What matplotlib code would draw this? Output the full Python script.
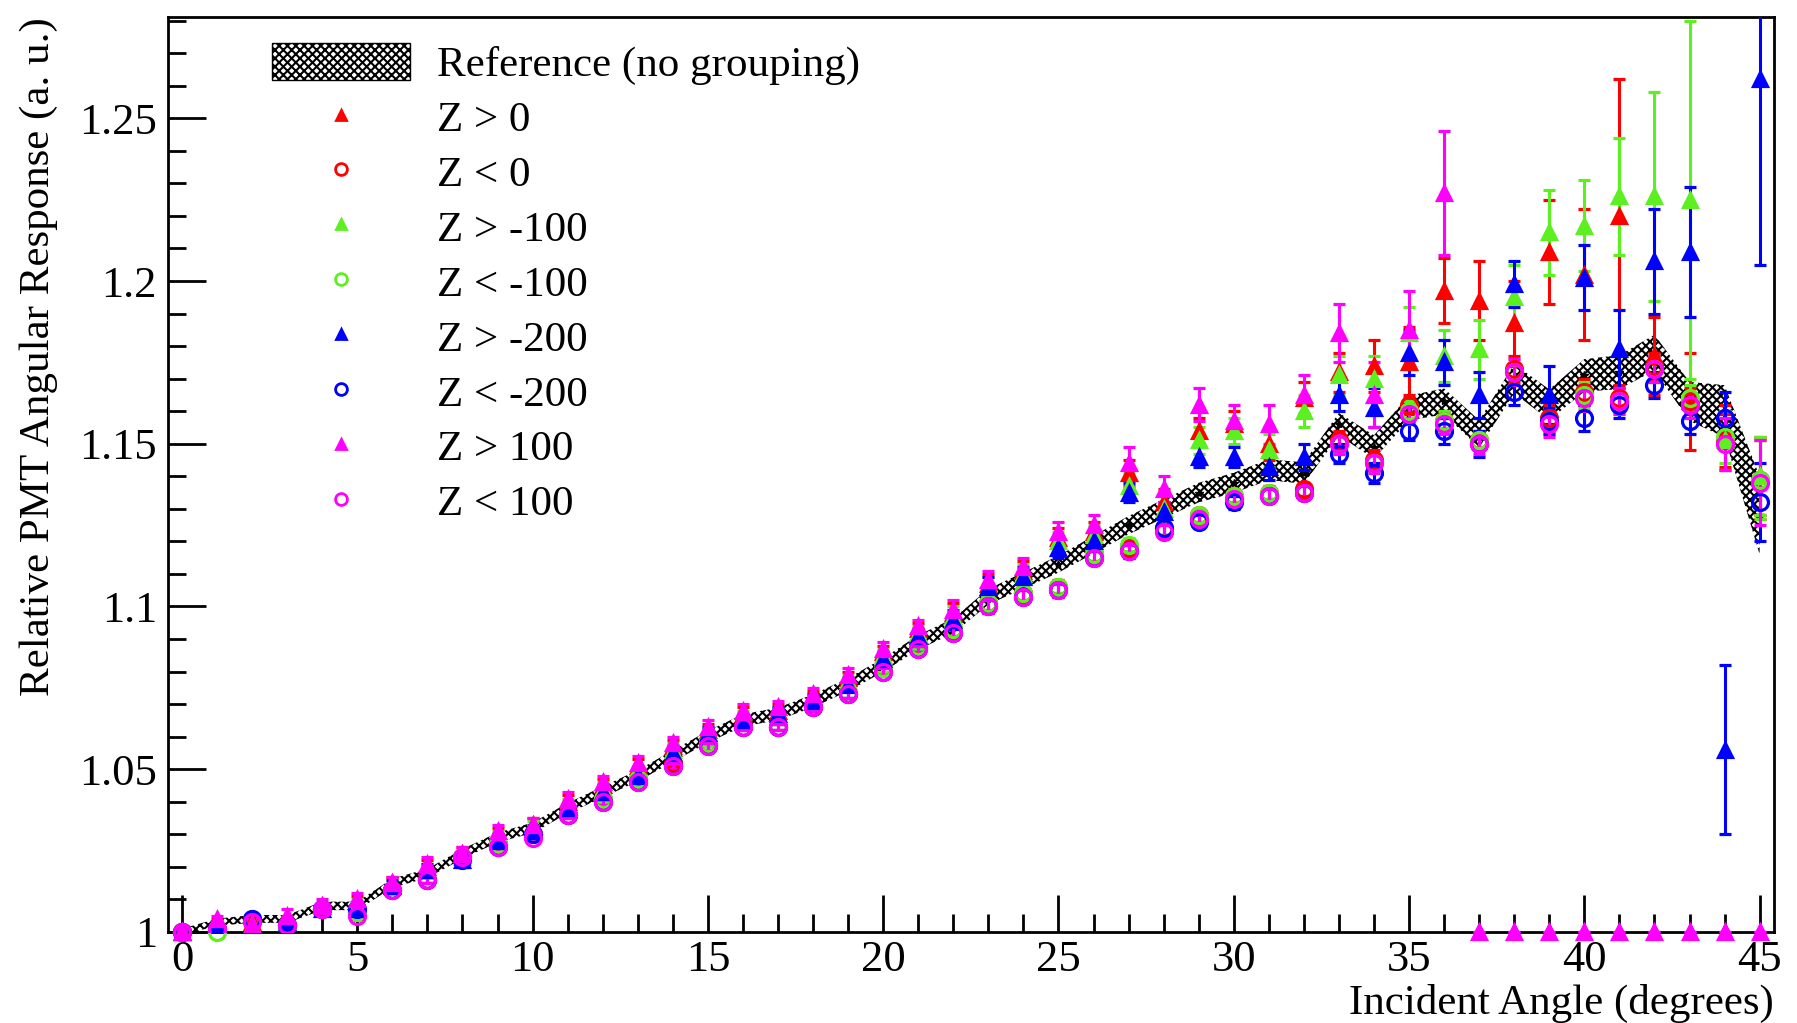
import numpy as np
import matplotlib
matplotlib.use("Agg")
from matplotlib import pyplot as plt
from matplotlib.lines import Line2D
from matplotlib.patches import Patch
from matplotlib.ticker import MultipleLocator, FormatStrFormatter

plt.rcParams['font.family'] = ['Liberation Serif', 'DejaVu Serif']
plt.rcParams['hatch.linewidth'] = 1.5

angle = np.arange(0, 46)

# reference (no grouping): value and band half-width
ref = [1.000, 1.003, 1.004, 1.004, 1.008, 1.008, 1.015, 1.018, 1.024, 1.029,
       1.032, 1.038, 1.043, 1.048, 1.054, 1.060, 1.065, 1.067, 1.071, 1.076,
       1.082, 1.089, 1.094, 1.103, 1.108, 1.113, 1.119, 1.125, 1.130, 1.135,
       1.138, 1.142, 1.141, 1.156, 1.149, 1.161, 1.163, 1.153, 1.170, 1.162,
       1.171, 1.172, 1.178, 1.163, 1.160, 1.128]
ref_err = [0.0010, 0.0011, 0.0012, 0.0012, 0.0013, 0.0013, 0.0014, 0.0014, 0.0015, 0.0015,
           0.0016, 0.0016, 0.0017, 0.0017, 0.0018, 0.0018, 0.0019, 0.0019, 0.0020, 0.0020,
           0.0021, 0.0022, 0.0023, 0.0024, 0.0025, 0.0026, 0.0027, 0.0028, 0.0029, 0.0030,
           0.0031, 0.0032, 0.0033, 0.0035, 0.0036, 0.0038, 0.0040, 0.0042, 0.0045, 0.0047,
           0.0050, 0.0052, 0.0055, 0.0060, 0.0080, 0.0120]

# Z > 0
zp0 = [1.000, 1.003, 1.003, 1.004, 1.008, 1.009, 1.015, 1.020, 1.024, 1.030,
       1.033, 1.040, 1.045, 1.051, 1.057, 1.062, 1.067, 1.068, 1.072, 1.078,
       1.086, 1.093, 1.098, 1.107, 1.111, 1.121, 1.123, 1.141, 1.132, 1.154,
       1.156, 1.150, 1.164, 1.172, 1.174, 1.175, 1.197, 1.194, 1.187, 1.209,
       1.202, 1.220, 1.177, 1.163, 1.152, 1.140]
zp0_err = [0.001, 0.001, 0.001, 0.001, 0.001, 0.002, 0.002, 0.002, 0.002, 0.002,
           0.002, 0.002, 0.002, 0.002, 0.002, 0.002, 0.002, 0.002, 0.002, 0.002,
           0.002, 0.002, 0.003, 0.003, 0.003, 0.003, 0.003, 0.004, 0.004, 0.004,
           0.004, 0.005, 0.005, 0.006, 0.008, 0.011, 0.010, 0.012, 0.013, 0.016,
           0.020, 0.042, 0.012, 0.015, 0.010, 0.012]

# Z < 0
zm0 = [1.000, 1.001, 1.004, 1.002, 1.007, 1.006, 1.013, 1.016, 1.023, 1.027,
       1.030, 1.036, 1.041, 1.047, 1.052, 1.058, 1.063, 1.063, 1.069, 1.073,
       1.081, 1.088, 1.093, 1.101, 1.104, 1.106, 1.116, 1.118, 1.124, 1.128,
       1.134, 1.135, 1.136, 1.151, 1.145, 1.162, 1.157, 1.151, 1.173, 1.158,
       1.166, 1.164, 1.174, 1.163, 1.151, 1.139]
zm0_err = [0.001, 0.001, 0.001, 0.001, 0.001, 0.001, 0.001, 0.001, 0.001, 0.001,
           0.001, 0.001, 0.001, 0.001, 0.001, 0.001, 0.001, 0.001, 0.001, 0.001,
           0.001, 0.001, 0.002, 0.002, 0.002, 0.002, 0.002, 0.002, 0.002, 0.002,
           0.002, 0.002, 0.002, 0.003, 0.003, 0.003, 0.003, 0.003, 0.004, 0.004,
           0.004, 0.004, 0.004, 0.004, 0.008, 0.012]

# Z > -100
zpm100 = [1.000, 1.002, 1.002, 1.003, 1.008, 1.008, 1.014, 1.019, 1.023, 1.029,
          1.032, 1.039, 1.044, 1.049, 1.056, 1.061, 1.066, 1.067, 1.071, 1.077,
          1.085, 1.092, 1.097, 1.106, 1.110, 1.120, 1.122, 1.137, 1.130, 1.151,
          1.154, 1.148, 1.160, 1.171, 1.170, 1.184, 1.177, 1.179, 1.195, 1.215,
          1.217, 1.226, 1.226, 1.225, 1.151, 1.140]
zpm100_err = [0.001, 0.001, 0.001, 0.001, 0.001, 0.002, 0.002, 0.002, 0.002, 0.002,
              0.002, 0.002, 0.002, 0.002, 0.002, 0.002, 0.002, 0.002, 0.002, 0.002,
              0.002, 0.002, 0.003, 0.003, 0.003, 0.003, 0.003, 0.004, 0.004, 0.004,
              0.004, 0.005, 0.005, 0.006, 0.007, 0.008, 0.008, 0.009, 0.010, 0.013,
              0.014, 0.018, 0.032, 0.055, 0.009, 0.012]

# Z < -100
zmm100 = [1.000, 1.000, 1.004, 1.002, 1.007, 1.006, 1.013, 1.016, 1.023, 1.027,
          1.030, 1.036, 1.041, 1.047, 1.051, 1.058, 1.063, 1.063, 1.069, 1.073,
          1.081, 1.088, 1.093, 1.101, 1.104, 1.106, 1.116, 1.119, 1.124, 1.128,
          1.134, 1.135, 1.135, 1.150, 1.144, 1.160, 1.157, 1.151, 1.172, 1.157,
          1.165, 1.163, 1.173, 1.164, 1.152, 1.139]
zmm100_err = zm0_err

# Z > -200
zpm200 = [1.000, 1.002, 1.001, 1.003, 1.007, 1.007, 1.014, 1.019, 1.022, 1.028,
          1.031, 1.038, 1.043, 1.048, 1.055, 1.061, 1.065, 1.067, 1.071, 1.076,
          1.084, 1.091, 1.096, 1.106, 1.109, 1.118, 1.120, 1.135, 1.129, 1.146,
          1.146, 1.143, 1.146, 1.165, 1.161, 1.178, 1.175, 1.165, 1.199, 1.165,
          1.201, 1.179, 1.206, 1.209, 1.056, 1.262]
zpm200_err = [0.001, 0.001, 0.001, 0.001, 0.001, 0.002, 0.002, 0.002, 0.002, 0.002,
              0.002, 0.002, 0.002, 0.002, 0.002, 0.002, 0.002, 0.002, 0.002, 0.002,
              0.002, 0.002, 0.003, 0.003, 0.003, 0.003, 0.003, 0.003, 0.003, 0.003,
              0.003, 0.004, 0.004, 0.005, 0.006, 0.007, 0.007, 0.007, 0.007, 0.009,
              0.010, 0.012, 0.016, 0.020, 0.026, 0.057]

# Z < -200
zmm200 = [1.000, 1.001, 1.004, 1.002, 1.007, 1.007, 1.013, 1.016, 1.022, 1.026,
          1.030, 1.036, 1.040, 1.046, 1.051, 1.057, 1.063, 1.063, 1.069, 1.073,
          1.080, 1.087, 1.092, 1.100, 1.103, 1.105, 1.115, 1.117, 1.124, 1.126,
          1.132, 1.134, 1.135, 1.147, 1.141, 1.154, 1.154, 1.150, 1.166, 1.157,
          1.158, 1.162, 1.168, 1.157, 1.158, 1.132]
zmm200_err = [0.001, 0.001, 0.001, 0.001, 0.001, 0.001, 0.001, 0.001, 0.001, 0.001,
              0.001, 0.001, 0.001, 0.001, 0.001, 0.001, 0.001, 0.001, 0.001, 0.001,
              0.001, 0.001, 0.002, 0.002, 0.002, 0.002, 0.002, 0.002, 0.002, 0.002,
              0.002, 0.002, 0.002, 0.003, 0.003, 0.003, 0.004, 0.004, 0.004, 0.004,
              0.004, 0.004, 0.004, 0.004, 0.008, 0.012]

# Z > 100 (empty bins from 37 on sit at the axis)
zp100 = [1.000, 1.004, 1.002, 1.005, 1.008, 1.010, 1.015, 1.021, 1.024, 1.031,
         1.033, 1.041, 1.046, 1.052, 1.058, 1.063, 1.068, 1.069, 1.073, 1.079,
         1.087, 1.094, 1.099, 1.108, 1.112, 1.123, 1.125, 1.144, 1.136, 1.162,
         1.157, 1.156, 1.165, 1.184, 1.165, 1.185, 1.227, 1.000, 1.000, 1.000,
         1.000, 1.000, 1.000, 1.000, 1.000, 1.000]
zp100_err = [0.001, 0.001, 0.001, 0.002, 0.002, 0.002, 0.002, 0.002, 0.002, 0.002,
             0.002, 0.002, 0.002, 0.002, 0.002, 0.002, 0.002, 0.002, 0.002, 0.002,
             0.002, 0.002, 0.003, 0.003, 0.003, 0.003, 0.003, 0.005, 0.004, 0.005,
             0.005, 0.006, 0.006, 0.009, 0.010, 0.012, 0.019, 0.000, 0.000, 0.000,
             0.000, 0.000, 0.000, 0.000, 0.000, 0.000]

# Z < 100
zm100 = [1.000, 1.001, 1.003, 1.002, 1.007, 1.005, 1.013, 1.016, 1.023, 1.026,
         1.029, 1.036, 1.040, 1.046, 1.051, 1.057, 1.063, 1.063, 1.069, 1.073,
         1.080, 1.087, 1.092, 1.100, 1.103, 1.105, 1.115, 1.117, 1.123, 1.127,
         1.133, 1.134, 1.135, 1.150, 1.144, 1.159, 1.156, 1.150, 1.172, 1.156,
         1.164, 1.163, 1.173, 1.162, 1.150, 1.138]
zm100_err = [0.001, 0.001, 0.001, 0.001, 0.001, 0.001, 0.001, 0.001, 0.001, 0.001,
             0.001, 0.001, 0.001, 0.001, 0.001, 0.001, 0.001, 0.001, 0.001, 0.001,
             0.001, 0.001, 0.002, 0.002, 0.002, 0.002, 0.002, 0.002, 0.002, 0.002,
             0.002, 0.002, 0.002, 0.003, 0.003, 0.003, 0.003, 0.003, 0.004, 0.004,
             0.004, 0.004, 0.004, 0.004, 0.008, 0.013]

red, green, blue, magenta = '#ff0000', '#5cf020', '#0000ff', '#ff00ff'
series = [
    ("Z > 0", zp0, zp0_err, '^', red),
    ("Z < 0", zm0, zm0_err, 'o', red),
    ("Z > -100", zpm100, zpm100_err, '^', green),
    ("Z < -100", zmm100, zmm100_err, 'o', green),
    ("Z > -200", zpm200, zpm200_err, '^', blue),
    ("Z < -200", zmm200, zmm200_err, 'o', blue),
    ("Z > 100", zp100, zp100_err, '^', magenta),
    ("Z < 100", zm100, zm100_err, 'o', magenta),
]
HATCH = 'xxxx'

fig = plt.figure(figsize=(17.97, 10.23), dpi=100)
ax = fig.add_axes([0.0935, 0.089, 0.8935, 0.894])

ref_a = np.array(ref)
ref_e = np.array(ref_err)
ax.fill_between(angle, ref_a - ref_e, ref_a + ref_e, facecolor='white',
                edgecolor='black', hatch=HATCH, linewidth=0, zorder=1)
ax.plot(angle, ref, ls='none', marker='*', ms=6, color='black', zorder=2)

for label, vals, errs, mk, col in series:
    filled = mk == '^'
    ax.errorbar(angle, vals, yerr=errs, fmt=mk, ms=9.5 if filled else 11.5,
                color=col, mfc=col if filled else 'none', mec=col,
                mew=2.3, elinewidth=2.2, capsize=4, capthick=2.2, zorder=3)
    # points sitting on the lower edge are drawn unclipped
    v = np.array(vals)
    low = v <= 1.0
    ax.plot(angle[low], v[low], ls='none', marker=mk,
            ms=9.5 if filled else 11.5, color=col,
            mfc=col if filled else 'none', mec=col, mew=2.3,
            clip_on=False, zorder=3)

ax.set_xlim(-0.4, 45.4)
ax.set_ylim(1.0, 1.281)

ax.xaxis.set_major_locator(MultipleLocator(5))
ax.xaxis.set_minor_locator(MultipleLocator(1))
ax.yaxis.set_major_locator(MultipleLocator(0.05))
ax.yaxis.set_minor_locator(MultipleLocator(0.01))
ax.yaxis.set_major_formatter(FormatStrFormatter('%g'))
ax.tick_params(which='both', direction='in', top=False, right=False,
               width=2, labelsize=32)
ax.tick_params(axis='x', pad=6)
ax.tick_params(axis='y', pad=8)
ax.tick_params(which='major', length=27)
ax.tick_params(which='minor', length=13)
for sp in ax.spines.values():
    sp.set_linewidth(2)

ax.set_xlabel("Incident Angle (degrees)", fontsize=31, loc='right')
ax.xaxis.set_label_coords(1.0, -0.057)
ax.set_ylabel("Relative PMT Angular Response (a. u.)", fontsize=31, loc='top',
              labelpad=15)

handles = [Patch(facecolor='white', edgecolor='black', hatch=HATCH, lw=1)]
labels = ["Reference (no grouping)"]
for label, vals, errs, mk, col in series:
    filled = mk == '^'
    handles.append(Line2D([], [], ls='none', marker=mk, ms=7 if filled else 8.5,
                          color=col, mfc=col if filled else 'none', mew=2))
    labels.append(label)
ax.legend(handles, labels, loc='upper left', bbox_to_anchor=(0.065, 0.972),
          frameon=False, fontsize=31, handlelength=3.2, handleheight=0.95,
          handletextpad=0.62, labelspacing=0.29, borderpad=0, borderaxespad=0)

fig.savefig("out.png", dpi=100)
